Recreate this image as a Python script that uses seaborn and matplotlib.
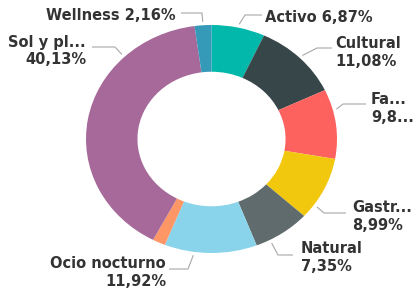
import numpy as np
import matplotlib
matplotlib.use("Agg")
import matplotlib.pyplot as plt
import seaborn as sns

# Datos (porcentaje del total por tipo de turismo)
categorias = ["Activo", "Cultural", "Familiar", "Gastronómico", "Natural",
              "Ocio nocturno", "Otros", "Sol y playa", "Wellness"]
valores = [6.87, 11.08, 9.85, 8.99, 7.35, 11.92, 1.65, 40.13, 2.16]
etiquetas = ["Activo 6,87%", "Cultural\n11,08%", "Fa...\n9,8...", "Gastr...\n8,99%",
             "Natural\n7,35%", "Ocio nocturno\n11,92%", None, "Sol y pl...\n40,13%",
             "Wellness 2,16%"]
colores = ["#01B8AA", "#374649", "#FD625E", "#F2C80F", "#5F6B6D",
           "#8AD4EB", "#FE9666", "#A66999", "#3599B8"]

# Posicion de las etiquetas (pixeles, origen arriba-izquierda):
# texto (x, y, alineacion), codo de la linea guia, final de la linea guia,
# frac = punto del sector (en sentido horario) donde arranca la linea guia
layout = {
    "Activo":        dict(txt=(265, 17), ha="left",  codo=(245, 15), fin=(262, 15)),
    "Cultural":      dict(txt=(335, 52.5), ha="left", codo=(317, 48), fin=(332, 48)),
    "Familiar":      dict(txt=(371, 108), ha="left", codo=(343, 104), fin=(366, 104), frac=0.3),
    "Gastronómico":  dict(txt=(352, 217), ha="left", codo=(324, 213), fin=(346, 213), frac=0.78),
    "Natural":       dict(txt=(301, 257.5), ha="left", codo=(278, 255), fin=(293, 255), frac=0.75),
    "Ocio nocturno": dict(txt=(166, 273), ha="right", codo=(188, 269), fin=(169, 269), frac=0.68),
    "Sol y playa":   dict(txt=(86, 51), ha="right", codo=(115, 47), fin=(92, 47), frac=0.75),
    "Wellness":      dict(txt=(176, 15), ha="right", codo=(202, 13), fin=(181, 13)),
}

sns.set_theme(style="white")

W, H = 416, 295
fig = plt.figure(figsize=(W / 100, H / 100), dpi=100)
fig.patch.set_facecolor("white")
# caja del anillo (un poco mas ancha que alta, como en la imagen original)
x0, y0, x1, y1 = 86, 25, 337, 253
ax = fig.add_axes([x0 / W, 1 - y1 / H, (x1 - x0) / W, (y1 - y0) / H])

wedges, _ = ax.pie(valores, colors=colores, startangle=90, counterclock=False,
                   radius=1, wedgeprops=dict(width=0.41, linewidth=0))
ax.set_aspect("auto")
ax.set_xlim(-1, 1)
ax.set_ylim(-1, 1)
ax.axis("off")


def px_a_datos(px, py):
    return ((px - x0) / (x1 - x0)) * 2 - 1, 1 - ((py - y0) / (y1 - y0)) * 2


for cat, w, etq in zip(categorias, wedges, etiquetas):
    if etq is None:
        continue
    lay = layout[cat]
    frac = lay.get("frac", 0.5)
    # sentido horario: empieza en theta2
    ang = np.deg2rad(w.theta2 - frac * (w.theta2 - w.theta1))
    ax_x, ax_y = 1.03 * np.cos(ang), 1.03 * np.sin(ang)
    cx, cy = px_a_datos(*lay["codo"])
    fx, fy = px_a_datos(*lay["fin"])
    ax.plot([ax_x, cx, fx], [ax_y, cy, fy], color="#a8a8a8", lw=0.8,
            clip_on=False, solid_capstyle="butt")
    tx, ty = px_a_datos(*lay["txt"])
    ax.text(tx, ty, etq, ha=lay["ha"], va="center", multialignment=lay["ha"],
            fontsize=10.5, fontweight="bold", color="#333333", linespacing=1.25,
            clip_on=False)

fig.savefig("out.png", dpi=100, facecolor="white")
plt.close(fig)
